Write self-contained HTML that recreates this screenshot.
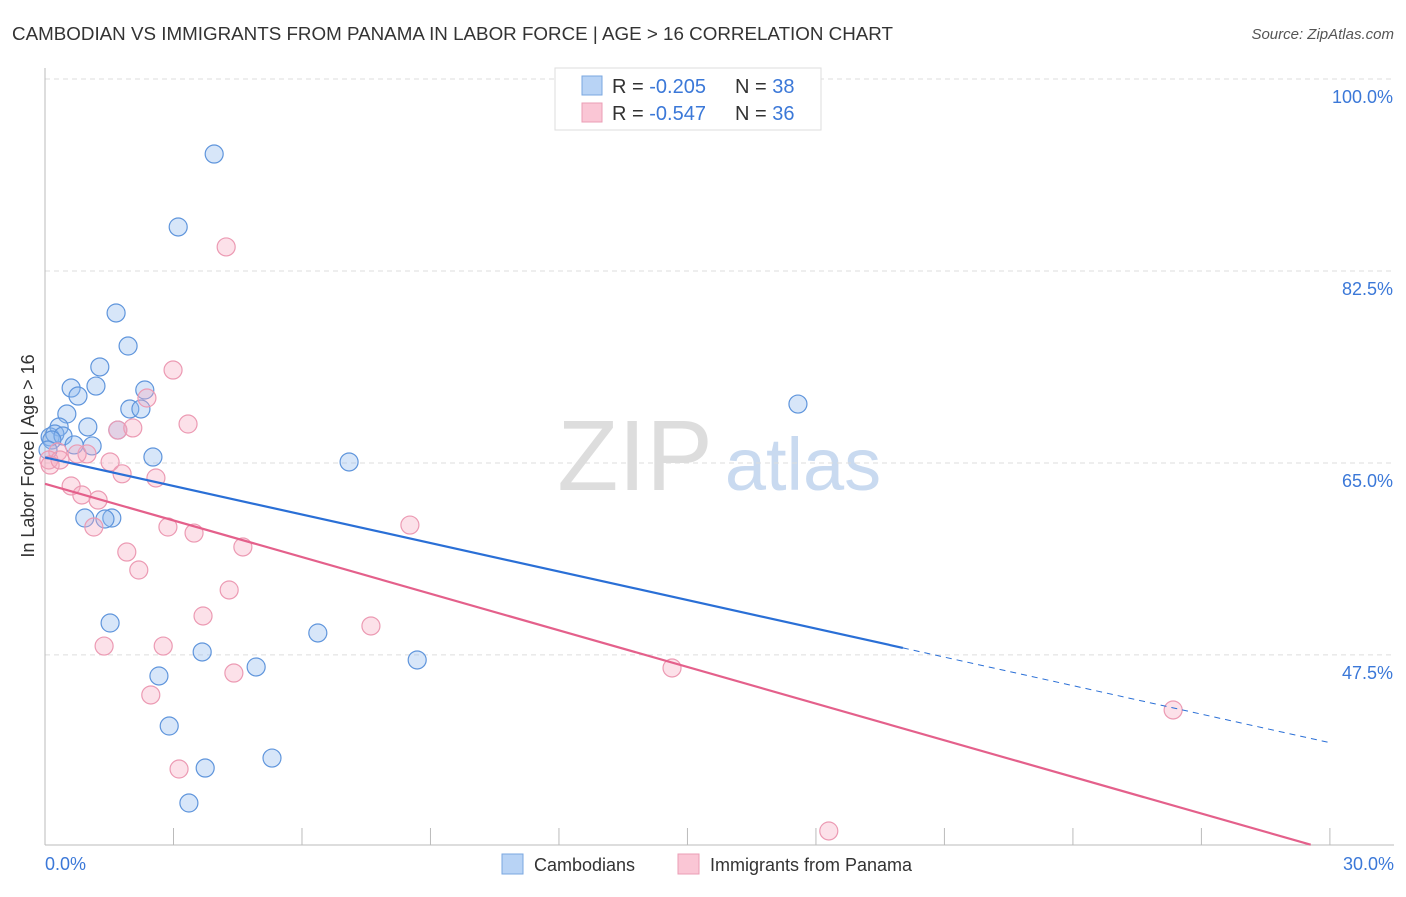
<!DOCTYPE html>
<html><head><meta charset="utf-8"><style>
body{margin:0;background:#fff;font-family:"Liberation Sans",sans-serif;}
svg text{font-family:"Liberation Sans",sans-serif;}
</style></head><body>
<svg id="chart" width="1406" height="892" viewBox="0 0 1406 892" xmlns="http://www.w3.org/2000/svg">
<text x="12" y="40" font-size="18" fill="#333" textLength="881" lengthAdjust="spacingAndGlyphs">CAMBODIAN VS IMMIGRANTS FROM PANAMA IN LABOR FORCE | AGE &gt; 16 CORRELATION CHART</text>
<text x="1394" y="39" font-size="15" fill="#555" font-style="italic" text-anchor="end">Source: ZipAtlas.com</text>
<g>
<text x="635" y="490" font-size="100" fill="#ddd" text-anchor="middle" font-family="Liberation Serif, serif">ZIP</text>
<text x="803" y="490" font-size="74" fill="#c9daf0" text-anchor="middle">atlas</text>
</g>
<g id="grid"></g>
<g id="axes"></g>
<g id="marks"></g>
<text transform="translate(34,456) rotate(-90)" font-size="18" fill="#333" text-anchor="middle">In Labor Force | Age &gt; 16</text>
<g>
<rect x="555" y="68" width="266" height="62" fill="#fff" stroke="#ddd"/>
<rect x="582" y="76" width="20" height="19" fill="#b8d3f5" stroke="#7aa7e0"/>
<rect x="582" y="103" width="20" height="19" fill="#fac6d5" stroke="#eb9db5"/>
<text x="612" y="93" font-size="20" fill="#333">R = <tspan fill="#3b78d8">-0.205</tspan><tspan x="735">N = </tspan><tspan fill="#3b78d8">38</tspan></text>
<text x="612" y="120" font-size="20" fill="#333">R = <tspan fill="#3b78d8">-0.547</tspan><tspan x="735">N = </tspan><tspan fill="#3b78d8">36</tspan></text>
</g>
<g>
<rect x="502" y="854" width="21" height="20" fill="#b8d3f5" stroke="#7aa7e0"/>
<text x="534" y="871" font-size="18" fill="#333">Cambodians</text>
<rect x="678" y="854" width="21" height="20" fill="#fac6d5" stroke="#eb9db5"/>
<text x="710" y="871" font-size="18" fill="#333">Immigrants from Panama</text>
</g>
</svg>
<script>
const yTicks=[100,82.5,65,47.5];
const yTickLabels=["100.0%","82.5%","65.0%","47.5%"];
const xEdgeLabels=["0.0%","30.0%"];
const blueX=[3.95,3.11,1.66,1.94,1.28,0.61,1.19,0.77,2.33,1.98,2.24,0.51,0.33,1.00,1.70,0.12,0.23,0.42,0.68,1.10,2.52,7.10,0.93,1.56,1.40,17.58,1.52,6.37,3.67,4.93,8.69,2.66,2.90,3.74,5.30,3.36,0.16,0.07];
const blueY=[93.16,86.51,78.67,75.66,73.75,71.83,72.01,71.10,71.65,69.92,69.92,69.46,68.28,68.28,68.00,67.37,67.64,67.46,66.64,66.55,65.54,65.09,59.98,59.98,59.89,70.37,50.41,49.50,47.77,46.40,47.04,45.58,41.02,37.19,38.10,34.00,67.09,66.18];
const pinkX=[4.23,2.99,2.38,3.34,1.70,2.05,0.98,0.75,0.30,0.09,0.12,1.52,1.80,2.59,0.61,0.86,1.24,1.14,2.87,3.48,8.52,1.91,4.62,2.19,4.30,3.69,7.61,1.38,2.76,4.41,14.64,2.47,26.34,3.13,18.30,0.35];
const pinkY=[84.69,73.47,70.92,68.55,68.00,68.19,65.82,65.82,66.00,65.27,64.81,65.09,64.01,63.63,62.90,62.08,61.62,59.16,59.16,58.61,59.34,56.88,57.34,55.24,53.42,51.05,50.14,48.31,48.31,45.85,46.31,43.85,42.48,37.10,31.45,65.27];
const blueTrend=[65.5,39.5]; const blueSolidEnd=20.03;
const pinkTrend=[63.1,29.7];
const NS="http://www.w3.org/2000/svg";
const sx=v=>45+v*42.83, sy=v=>79+(100-v)*10.97;
function mk(t,a,p){const e=document.createElementNS(NS,t);for(const k in a)e.setAttribute(k,a[k]);document.getElementById(p).appendChild(e);return e;}
yTicks.forEach((t,i)=>{
 const l=mk('line',{x1:45,x2:1394,y1:sy(t),y2:sy(t),stroke:'#ddd','stroke-dasharray':'5,4'},'grid');
 
 
 const tx=mk('text',{x:1393,y:sy(t)+24,'font-size':18,fill:'#3b78d8','text-anchor':'end'},'grid');tx.textContent=yTickLabels[i];
 
 
});
let a=mk('line',{x1:45,x2:45,y1:68,y2:845,stroke:'#bbb'},'axes');


a=mk('line',{x1:45,x2:1394,y1:845,y2:845,stroke:'#bbb'},'axes');


for(let v=3;v<=30;v+=3){const t=mk('line',{x1:sx(v),x2:sx(v),y1:828,y2:845,stroke:'#bbb'},'axes');
 
 }
[[0,'start',45],[30,'end',1394]].forEach((d,i)=>{const t=mk('text',{x:d[2],y:870,'font-size':18,fill:'#3b78d8','text-anchor':d[1]},'axes');t.textContent=xEdgeLabels[i];
 
 });
function pts(X,Y,fill,stroke,name){X.forEach((x,i)=>{const c=mk('circle',{cx:sx(x),cy:sy(Y[i]),r:9,fill:fill,stroke:stroke,'stroke-width':1.2},'marks');
 
 });}
pts(blueX,blueY,'rgba(140,182,238,0.35)','#5f95dc','cambodian-point');
pts(pinkX,pinkY,'rgba(246,168,192,0.35)','#ec9ab3','panama-point');
const by=x=>blueTrend[0]+(blueTrend[1]-blueTrend[0])*x/30;
let l=mk('line',{x1:sx(0),y1:sy(by(0)),x2:sx(blueSolidEnd),y2:sy(by(blueSolidEnd)),stroke:'#2a6fd6','stroke-width':2.2},'marks');


l=mk('line',{x1:sx(blueSolidEnd),y1:sy(by(blueSolidEnd)),x2:sx(30),y2:sy(by(30)),stroke:'#2a6fd6','stroke-width':1,'stroke-dasharray':'6,5'},'marks');


const pxEnd=Math.min(30,(pinkTrend[0]-30.2)/((pinkTrend[0]-pinkTrend[1])/30));
const py=x=>pinkTrend[0]+(pinkTrend[1]-pinkTrend[0])*x/30;
l=mk('line',{x1:sx(0),y1:sy(py(0)),x2:sx(pxEnd),y2:sy(py(pxEnd)),stroke:'#e4608b','stroke-width':2.2},'marks');


</script>
</body></html>
